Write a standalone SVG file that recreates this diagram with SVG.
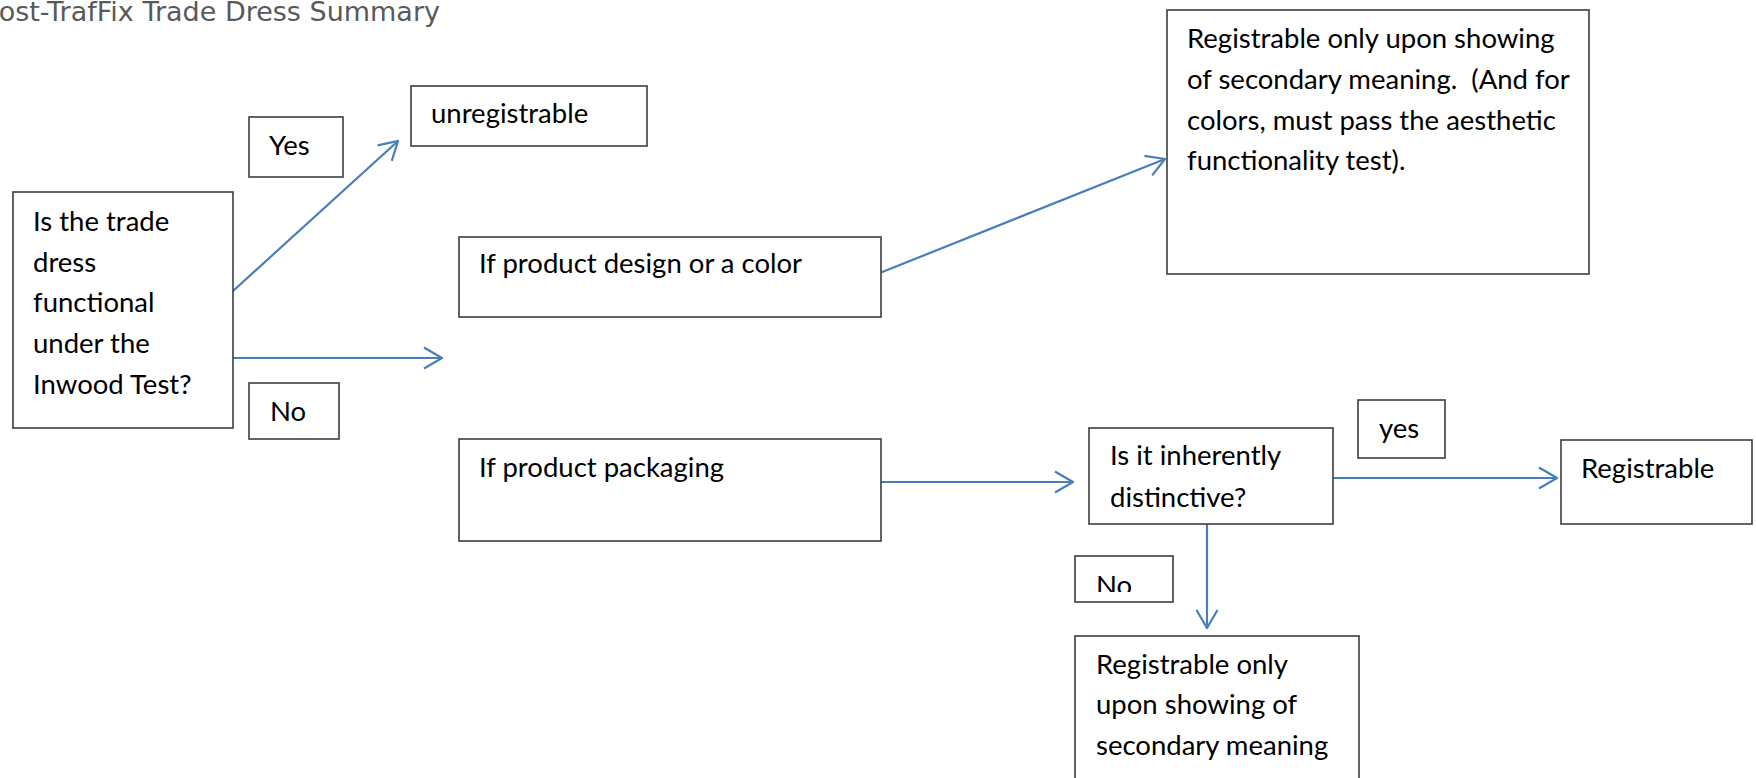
<svg xmlns="http://www.w3.org/2000/svg" width="1756" height="778" viewBox="0 0 1756 778">
<style>
.box{fill:#fff;stroke:#3c3c3c;stroke-width:1.6}
.t{font-family:Lato,"Liberation Sans",sans-serif;font-size:27.5px;fill:#000;white-space:pre}
.title{font-family:"DejaVu Sans",sans-serif;font-size:27px;fill:#595959}
.c{fill:none;stroke:#4a7ebb;stroke-width:2.2}
</style>
<defs>
<marker id="arr" markerUnits="userSpaceOnUse" viewBox="0 0 20 24" refX="19" refY="12" markerWidth="20" markerHeight="24" orient="auto">
<path d="M1,1.5 L19,12 L1,22.5" fill="none" stroke="#4a7ebb" stroke-width="2.2"/>
</marker>
<clipPath id="noClip"><rect x="1075" y="556" width="100" height="36"/></clipPath>
</defs>
<rect width="1756" height="778" fill="#fff"/>
<text class="title" x="440" y="21" text-anchor="end">Post-TrafFix Trade Dress Summary</text>

<g id="connectors">
<line class="c" x1="233" y1="291" x2="398" y2="141" marker-end="url(#arr)"/>
<line class="c" x1="233" y1="358" x2="442" y2="358" marker-end="url(#arr)"/>
<line class="c" x1="881" y1="272.5" x2="1165" y2="159" marker-end="url(#arr)"/>
<line class="c" x1="881" y1="482" x2="1073" y2="482" marker-end="url(#arr)"/>
<line class="c" x1="1333" y1="478" x2="1557" y2="478" marker-end="url(#arr)"/>
<line class="c" x1="1207" y1="524" x2="1207" y2="628" marker-end="url(#arr)"/>
</g>

<g id="functional">
<rect class="box" x="13" y="192" width="220" height="236"/>
<text class="t" x="33" y="231">Is the trade</text>
<text class="t" x="33" y="272">dress</text>
<text class="t" x="33" y="312">functional</text>
<text class="t" x="33" y="353">under the</text>
<text class="t" x="33" y="394">Inwood Test?</text>
</g>
<g id="yes1">
<rect class="box" x="249" y="117" width="94" height="60"/>
<text class="t" x="269" y="155">Yes</text>
</g>
<g id="no1">
<rect class="box" x="249" y="383" width="90" height="56"/>
<text class="t" x="270" y="421">No</text>
</g>
<g id="unregistrable">
<rect class="box" x="411" y="86" width="236" height="60"/>
<text class="t" x="431" y="123">unregistrable</text>
</g>
<g id="design">
<rect class="box" x="459" y="237" width="422" height="80"/>
<text class="t" x="479" y="273">If product design or a color</text>
</g>
<g id="packaging">
<rect class="box" x="459" y="439" width="422" height="102"/>
<text class="t" x="479" y="477">If product packaging</text>
</g>
<g id="secondary1">
<rect class="box" x="1167" y="10" width="422" height="264"/>
<text class="t" x="1187" y="48">Registrable only upon showing</text>
<text class="t" x="1187" y="89">of secondary meaning.  (And for</text>
<text class="t" x="1187" y="130">colors, must pass the aesthetic</text>
<text class="t" x="1187" y="170">functionality test).</text>
</g>
<g id="inherent">
<rect class="box" x="1089" y="428" width="244" height="96"/>
<text class="t" x="1110" y="465">Is it inherently</text>
<text class="t" x="1110" y="507">distinctive?</text>
</g>
<g id="yes2">
<rect class="box" x="1358" y="400" width="87" height="58"/>
<text class="t" x="1379" y="438">yes</text>
</g>
<g id="registrable">
<rect class="box" x="1561" y="440" width="191" height="84"/>
<text class="t" x="1581" y="478">Registrable</text>
</g>
<g id="no2">
<rect class="box" x="1075" y="556" width="98" height="46"/>
<text class="t" x="1096" y="595" clip-path="url(#noClip)">No</text>
</g>
<g id="secondary2">
<rect class="box" x="1075" y="636" width="284" height="160"/>
<text class="t" x="1096" y="674">Registrable only</text>
<text class="t" x="1096" y="714">upon showing of</text>
<text class="t" x="1096" y="755">secondary meaning</text>
</g>
</svg>
